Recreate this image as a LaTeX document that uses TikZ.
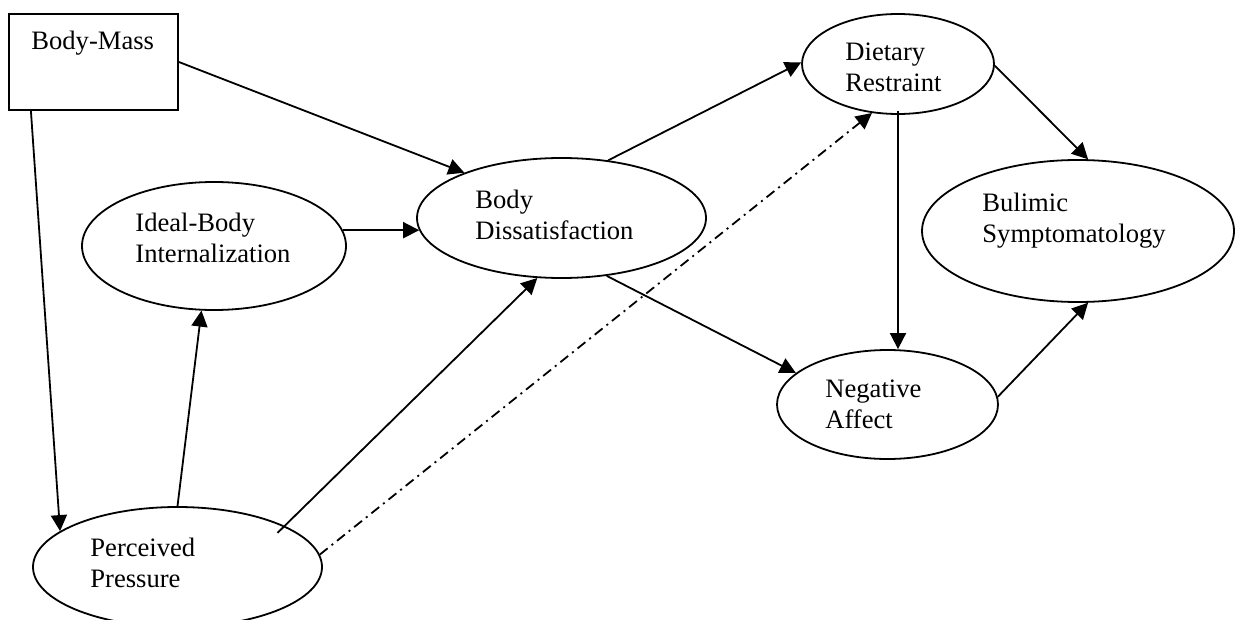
\documentclass[tikz,border=0pt]{standalone}
\usepackage{fontspec}
\setmainfont{Liberation Serif}
\usetikzlibrary{shapes.geometric,arrows.meta}
\begin{document}
\begin{tikzpicture}[x=0.5pt,y=-0.5pt,
  shp/.style={draw,line width=0.9pt,inner sep=0pt},
  oval/.style={shp,ellipse},
  lbl/.style={anchor=base west,inner sep=0pt,font=\fontsize{13.3}{15.5}\selectfont},
  arr/.style={line width=0.9pt,-{Triangle[length=8pt,width=8pt]}},
  dd/.style={arr,dash pattern=on 5pt off 2.5pt on 1pt off 2.5pt}]
\useasboundingbox (0,0) rectangle (1235,620);
\clip (0,0) rectangle (1235,620);
% shapes
\node[shp,rectangle,minimum width=84.5pt,minimum height=48pt] (bm) at (93.5,62) {};
\node[oval,minimum width=132pt,minimum height=64pt] (ib) at (214,246) {};
\node[oval,minimum width=144.5pt,minimum height=60pt] (bd) at (561.5,218) {};
\node[oval,minimum width=96pt,minimum height=50pt] (dr) at (898,64) {};
\node[oval,minimum width=156pt,minimum height=71pt] (bs) at (1078,231) {};
\node[oval,minimum width=110.5pt,minimum height=54.5pt] (na) at (887.5,404.5) {};
\node[oval,minimum width=144.5pt,minimum height=60pt] (pp) at (177.5,567) {};
% labels
\node[lbl] (bmt) at (31,50) {Body-Mass};
\node[lbl] (ibt) at (135,232) {\begin{tabular}[t]{@{}l@{}}Ideal-Body\\Internalization\end{tabular}};
\node[lbl] (bdt) at (475,208) {\begin{tabular}[t]{@{}l@{}}Body\\Dissatisfaction\end{tabular}};
\node[lbl] (drt) at (845,61) {\begin{tabular}[t]{@{}l@{}}Dietary\\Restraint\end{tabular}};
\node[lbl] (bst) at (982,212) {\begin{tabular}[t]{@{}l@{}}Bulimic\\Symptomatology\end{tabular}};
\node[lbl] (nat) at (825,397) {\begin{tabular}[t]{@{}l@{}}Negative\\Affect\end{tabular}};
\node[lbl] (ppt) at (90,556) {\begin{tabular}[t]{@{}l@{}}Perceived\\Pressure\end{tabular}};
% connectors
\draw[arr] (bm.east) -- (bd.155);
\draw[arr] (bm.218) -- (pp.163);
\draw[arr] (ib.7) -- (bd.185 |- ib.7);
\draw[arr] (pp.north) -- (ib.259);
\draw[arr,shorten <=-5pt] (pp.21) -- (bd.248);
\draw[dd] (pp.5) -- (dr.242);
\draw[arr] (bd.51) -- (dr.179);
\draw[arr] (bd.308) -- (na.161);
\draw[arr] (dr.-1) -- (bs.82);
\draw[arr,shorten <=-2pt] (dr.south) -- (na.north -| dr.south);
\draw[arr] (na.4) -- (bs.278);
\end{tikzpicture}
\end{document}
